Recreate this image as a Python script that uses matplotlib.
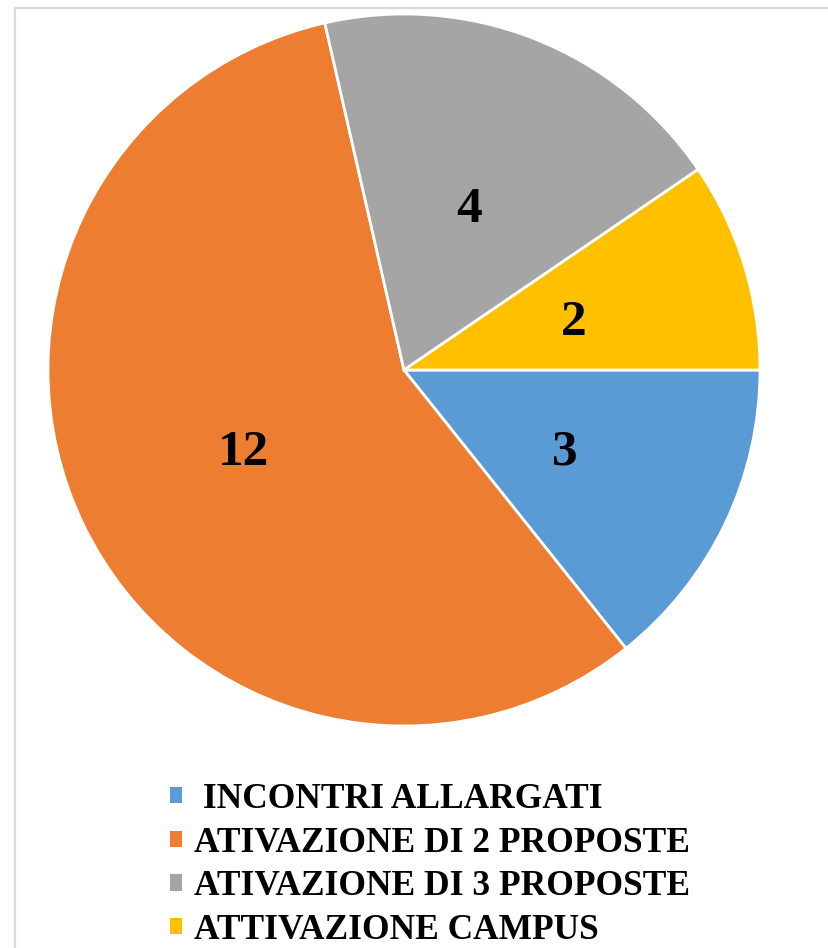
import matplotlib
matplotlib.use("Agg")
import matplotlib.pyplot as plt
from matplotlib.patches import Rectangle, Patch

# Donnees
categorie = [" INCONTRI ALLARGATI", "ATIVAZIONE DI 2 PROPOSTE",
             "ATIVAZIONE DI 3 PROPOSTE", "ATTIVAZIONE CAMPUS"]
valeurs = [3, 12, 4, 2]
couleurs = ["#5B9BD5", "#ED7D31", "#A5A5A5", "#FFC000"]

plt.rcParams["font.family"] = ["Liberation Serif", "DejaVu Serif"]

W, H = 829, 948
fig = plt.figure(figsize=(W / 100, H / 100), dpi=100)

# cadre gris clair (coupe a droite et en bas)
fig.patches.append(Rectangle((15 / W, -0.05), 1.1, 1 - 8 / H + 0.05,
                             transform=fig.transFigure, fill=False,
                             edgecolor="#D9D9D9", lw=1.6, zorder=0))

cx, cy, R = 404, 370, 356
ax = fig.add_axes([(cx - R) / W, (H - cy - R) / H, 2 * R / W, 2 * R / H])

total = sum(valeurs)
wedges, textes, autotextes = ax.pie(
    valeurs, colors=couleurs, startangle=0, counterclock=False,
    autopct=lambda p: f"{round(p * total / 100):d}", pctdistance=0.5,
    wedgeprops=dict(edgecolor="white", linewidth=2),
    textprops=dict(fontsize=37, fontweight="bold", color="black"))
for t in autotextes:
    t.set_verticalalignment("center_baseline")
ax.set_xlim(-1, 1)
ax.set_ylim(-1, 1)
ax.set_aspect("equal")
ax.axis("off")

poignees = [Patch(facecolor=c, edgecolor="none") for c in couleurs]
fig.legend(poignees, categorie, loc="upper left",
           bbox_to_anchor=(170 / W, 1 - 783 / H), borderaxespad=0, borderpad=0,
           frameon=False, handlelength=0.33, handleheight=0.33,
           handletextpad=0.36, labelspacing=0.3,
           prop=dict(family="Liberation Serif", weight="bold", size=25.5))

fig.savefig("out.png", dpi=100)
